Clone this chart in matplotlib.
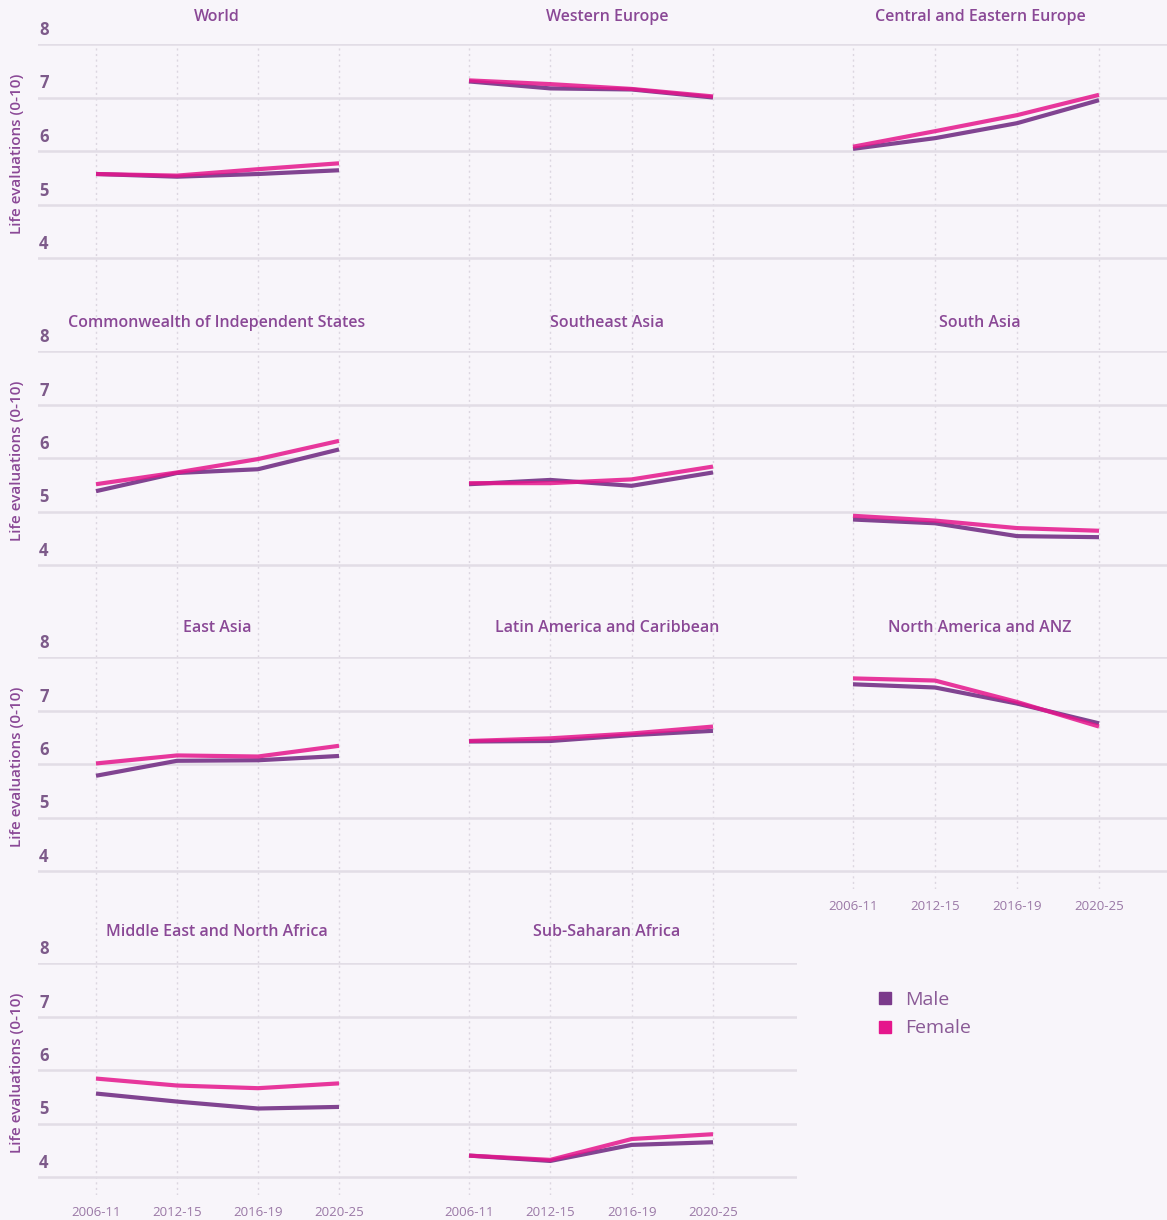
import matplotlib.pyplot as plt
import matplotlib.transforms as mtransforms
from matplotlib.lines import Line2D
import numpy as np

plt.rcParams['font.family'] = ['Open Sans', 'DejaVu Sans']

periods = ['2006-11', '2012-15', '2016-19', '2020-25']

regions = ['World', 'Western Europe', 'Central and Eastern Europe',
           'Commonwealth of Independent States', 'Southeast Asia', 'South Asia',
           'East Asia', 'Latin America and Caribbean', 'North America and ANZ',
           'Middle East and North Africa', 'Sub-Saharan Africa']

male = [
    [5.57, 5.52, 5.57, 5.64],
    [7.30, 7.17, 7.15, 7.00],
    [6.04, 6.24, 6.52, 6.95],
    [5.38, 5.72, 5.79, 6.16],
    [5.51, 5.59, 5.48, 5.73],
    [4.85, 4.78, 4.54, 4.52],
    [5.78, 6.06, 6.07, 6.15],
    [6.42, 6.43, 6.54, 6.62],
    [7.49, 7.43, 7.13, 6.76],
    [5.56, 5.41, 5.28, 5.31],
    [4.40, 4.30, 4.60, 4.65],
]
female = [
    [5.57, 5.54, 5.66, 5.77],
    [7.32, 7.25, 7.16, 7.02],
    [6.08, 6.37, 6.67, 7.05],
    [5.51, 5.73, 5.98, 6.32],
    [5.53, 5.53, 5.60, 5.84],
    [4.92, 4.83, 4.69, 4.64],
    [6.01, 6.16, 6.14, 6.34],
    [6.43, 6.48, 6.57, 6.70],
    [7.60, 7.56, 7.16, 6.70],
    [5.84, 5.71, 5.66, 5.75],
    [4.40, 4.32, 4.71, 4.80],
]

y_ticks = [4, 5, 6, 7, 8]

bg = '#f8f5fa'
grid_c = '#e2dde6'
male_c = '#7b3a8b'
female_c = '#e5168c'
title_c = '#8a4896'
tick_c = '#7d5a8a'

W, H = 1167, 1220
fig = plt.figure(figsize=(W / 100, H / 100), dpi=100, facecolor=bg)

# layout in pixels
col_edges = [(38, 415), (415, 797), (797, 1167)]
col_pts = [(96, 339), (469, 713), (853, 1099)]
title_x = [217, 607, 980]
row_tops = [44, 351, 657, 963]
title_gap = [27, 28, 29, 31]
unit = 53.5
full_h = 306
last_h = 232

for i, name in enumerate(regions):
    r, c = divmod(i, 3)
    bottom_panel = r == 3 or (r == 2 and c == 2)
    h = last_h if bottom_panel else full_h
    x0, x1 = col_edges[c]
    p0, p1 = col_pts[c]
    top = row_tops[r]
    ax = fig.add_axes([x0 / W, 1 - (top + h) / H, (x1 - x0) / W, h / H])
    ax.set_facecolor('none')
    step = (p1 - p0) / 3
    ax.set_xlim(-(p0 - x0) / step, 3 + (x1 - p1) / step)
    ax.set_ylim(8 - h / unit, 8)

    for v in y_ticks:
        ax.axhline(v, color=grid_c, lw=1.8, zorder=1)
    for k in range(len(periods)):
        ax.axvline(k, color='#dcd6e0', lw=1.0, ls=(0, (1.5, 2.5)), zorder=0)

    xs = np.arange(len(periods))
    ax.plot(xs, male[i], color=male_c, lw=3, alpha=0.95, zorder=3,
            solid_capstyle='butt')
    ax.plot(xs, female[i], color=female_c, lw=3, alpha=0.85, zorder=4,
            solid_capstyle='butt')

    for s in ax.spines.values():
        s.set_visible(False)
    ax.set_yticks([])
    ax.tick_params(axis='x', length=0, pad=8, labelsize=9.5, labelcolor='#9a78a6')
    ax.set_xticks(xs)
    if bottom_panel:
        ax.set_xticklabels(periods)
    else:
        ax.set_xticklabels([])

    if c == 0:
        off = mtransforms.offset_copy(ax.get_yaxis_transform(), fig=fig,
                                      x=1, y=5, units='dots')
        for v in y_ticks:
            ax.text(0, v, str(v), transform=off, ha='left', va='bottom',
                    fontsize=12, color=tick_c, fontweight='bold')
        fig.text(17 / W, 1 - (top + 110) / H, 'Life evaluations (0-10)',
                 rotation=90, ha='center', va='center', fontsize=11,
                 color='#8a4896', fontweight='semibold')

    fig.text(title_x[c] / W, 1 - (top - title_gap[r]) / H, name,
             ha='center', va='center', fontsize=11.5, color=title_c,
             fontweight='semibold')

handles = [Line2D([], [], marker='s', ls='', color=male_c, markersize=9),
           Line2D([], [], marker='s', ls='', color=female_c, markersize=9)]
fig.legend(handles, ['Male', 'Female'], loc='center left',
           bbox_to_anchor=(858 / W, 1 - 1014 / H), frameon=False,
           fontsize=14, labelcolor='#8a5a96', handletextpad=0.5,
           labelspacing=0.55, handlelength=1.0)

fig.savefig('out.png', dpi=100, facecolor=bg)
